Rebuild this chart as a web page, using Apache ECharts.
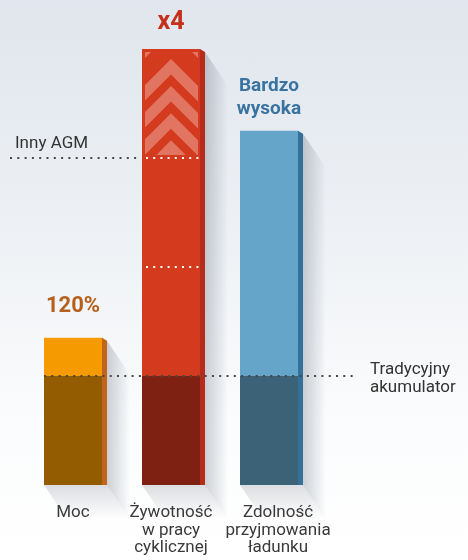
<!DOCTYPE html>
<html>
<head>
<meta charset="utf-8">
<script src="https://cdn.jsdelivr.net/npm/echarts@6/dist/echarts.min.js"></script>
<style>
  html, body { margin: 0; padding: 0; }
  #chart {
    width: 468px; height: 560px;
    background: linear-gradient(to bottom, #e0e6ed 0%, #edf0f4 40%, #fbfcfd 75%, #ffffff 100%);
  }
</style>
</head>
<body>
<div id="chart"></div>
<script>
  // data
  const categories = ['Moc', 'Żywotność\nw pracy\ncyklicznej', 'Zdolność\nprzyjmowania\nładunku'];
  const barValues = [135, 400, 325];
  const baseValue = 100;            // Tradycyjny akumulator
  const topLabels = ['120%', 'x4', 'Bardzo\nwysoka'];
  const refValues = [100, 300];
  const refLabels = ['Tradycyjny\nakumulator', 'Inny AGM'];
  const stripeValues = [200, 300];  // white dotted marks on the red bar

  // styles
  const frontColor = ['#f59a00', '#d43a1e', '#65a5c9'];
  const lowerColor = ['#935c00', '#7e2012', '#3b6276'];
  const sideColor = ['#c0651b', '#b52d1a', '#35709a'];
  const labelColor = ['#b5611d', '#c4301a', '#39739f'];
  const labelFont = ['bold 22px Roboto', 'bold 25px Roboto', 'bold 19px Roboto'];
  const labelGap = [20, 15, 10];

  function clipPoly(pts, x0, y0, x1, y1) {
    const planes = [
      [p => p[0] >= x0, (a, b) => { const t = (x0 - a[0]) / (b[0] - a[0]); return [x0, a[1] + t * (b[1] - a[1])]; }],
      [p => p[0] <= x1, (a, b) => { const t = (x1 - a[0]) / (b[0] - a[0]); return [x1, a[1] + t * (b[1] - a[1])]; }],
      [p => p[1] >= y0, (a, b) => { const t = (y0 - a[1]) / (b[1] - a[1]); return [a[0] + t * (b[0] - a[0]), y0]; }],
      [p => p[1] <= y1, (a, b) => { const t = (y1 - a[1]) / (b[1] - a[1]); return [a[0] + t * (b[0] - a[0]), y1]; }]
    ];
    let out = pts;
    planes.forEach(function (pl) {
      const inside = pl[0], cut = pl[1];
      const src = out; out = [];
      for (let k = 0; k < src.length; k++) {
        const a = src[(k + src.length - 1) % src.length], b = src[k];
        if (inside(b)) {
          if (!inside(a)) out.push(cut(a, b));
          out.push(b);
        } else if (inside(a)) {
          out.push(cut(a, b));
        }
      }
    });
    return out;
  }

  function renderBar(params, api) {
    const i = api.value(0);
    const top = api.coord([i, api.value(1)]);
    const mid = api.coord([i, baseValue]);
    const bot = api.coord([i, 0]);
    const cx = top[0];
    const L = cx - 29, R = cx + 29, S = R + 5;
    const yT = top[1], yM = mid[1], yB = bot[1];
    const dx = 23, dy = 34;
    const children = [
      { type: 'polygon', shape: { points: [[S, yT + 3], [S + dx, yT + 3 + dy], [S + dx, yB + dy], [S, yB]] },
        style: { fill: { type: 'linear', x: 0, y: 0, x2: 1, y2: 0,
          colorStops: [{ offset: 0, color: 'rgba(70,80,95,0.26)' }, { offset: 1, color: 'rgba(70,80,95,0)' }] } } },
      { type: 'polygon', shape: { points: [[L, yB], [S, yB], [S + dx, yB + dy], [L + dx, yB + dy]] },
        style: { fill: { type: 'linear', x: 0, y: 0, x2: 0, y2: 1,
          colorStops: [{ offset: 0, color: 'rgba(70,80,95,0.18)' }, { offset: 1, color: 'rgba(70,80,95,0)' }] } } },
      { type: 'polygon', shape: { points: [[R, yT], [S, yT + 3], [S, yB], [R, yB]] }, style: { fill: sideColor[i] } },
      { type: 'rect', shape: { x: L, y: yT, width: R - L, height: yM - yT }, style: { fill: frontColor[i] } },
      { type: 'rect', shape: { x: L, y: yM, width: R - L, height: yB - yM }, style: { fill: lowerColor[i] } }
    ];
    if (i === 1) {
      const x0 = L + 3, x1 = R - 2, y0 = yT + 3;
      const y1 = api.coord([i, refValues[1]])[1] - 3;
      const hw = 40, t = 15.5;
      const chev = 'rgba(255,255,255,0.3)';
      for (let a = yT + 10; a < y1; a += 27.1) {
        const pts = clipPoly([[cx - hw, a + hw], [cx, a], [cx + hw, a + hw],
          [cx + hw, a + t + hw], [cx, a + t], [cx - hw, a + t + hw]], x0, y0, x1, y1);
        if (pts.length > 2) children.push({ type: 'polygon', shape: { points: pts }, style: { fill: chev } });
      }
      children.push({ type: 'polygon', shape: { points: [[x0, y0], [x0 + 6, y0], [x0, y0 + 6]] }, style: { fill: chev } });
      children.push({ type: 'polygon', shape: { points: [[x1, y0], [x1 - 6, y0], [x1, y0 + 6]] }, style: { fill: chev } });
      stripeValues.forEach(function (v) {
        const y = api.coord([i, v])[1];
        children.push({ type: 'line', shape: { x1: L + 4, y1: y, x2: R - 1, y2: y },
          style: { stroke: '#ffffff', lineWidth: 2, lineDash: [2, 5.2] } });
      });
    }
    children.push({ type: 'text', style: {
      text: topLabels[i], x: cx, y: yT - labelGap[i], align: 'center', verticalAlign: 'bottom',
      font: labelFont[i], fill: labelColor[i], lineHeight: 23 } });
    return { type: 'group', children: children };
  }

  const refSpan = [[44, 354], [10, 140]];
  const refText = [{ x: 370, dy: 3 }, { x: 15, dy: -14 }];

  function renderRef(params, api) {
    const k = params.dataIndex;
    const y = api.coord([0, api.value(1)])[1];
    return { type: 'group', children: [
      { type: 'line', shape: { x1: refSpan[k][0], y1: y, x2: refSpan[k][1], y2: y },
        style: { stroke: '#474747', lineWidth: 2, lineDash: [2, 5.3] } },
      { type: 'text', style: { text: refLabels[k], x: refText[k].x, y: y + refText[k].dy,
        align: 'left', verticalAlign: 'middle', font: '17px Roboto', fill: '#333333', lineHeight: 18 } }
    ] };
  }

  const chart = echarts.init(document.getElementById('chart'));
  chart.setOption({
    animation: false,
    grid: { left: 24, right: 150, top: 49, bottom: 75 },
    xAxis: {
      type: 'category',
      data: categories.map(function (c, i) {
        return i === 2 ? { value: c, textStyle: { padding: [0, 0, 0, 18] } } : c;
      }),
      axisLine: { show: false },
      axisTick: { show: false },
      axisLabel: { interval: 0, margin: 19, color: '#3a3a3a', fontSize: 17, lineHeight: 17.5, fontFamily: 'Roboto' }
    },
    yAxis: { type: 'value', min: 0, max: 400, show: false },
    series: [
      { type: 'custom', clip: false, silent: true, z: 2,
        data: barValues.map(function (v, i) { return [i, v]; }),
        renderItem: renderBar },
      { type: 'custom', clip: false, silent: true, z: 3,
        data: refValues.map(function (v) { return [0, v]; }),
        renderItem: renderRef }
    ]
  });
</script>
</body>
</html>
